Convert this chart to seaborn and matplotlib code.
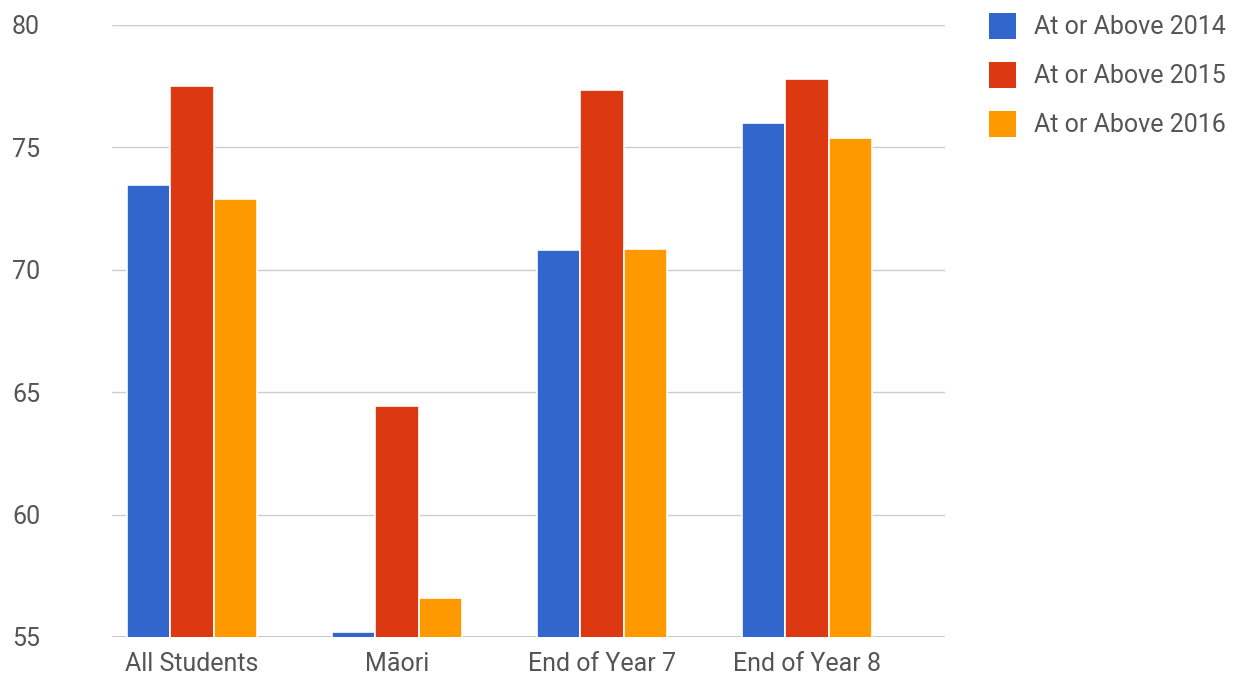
import matplotlib
matplotlib.use("Agg")
import matplotlib.pyplot as plt
import seaborn as sns
import pandas as pd
from matplotlib.patches import Patch

categories = ["All Students", "Māori", "End of Year 7", "End of Year 8"]
series_names = ["At or Above 2014", "At or Above 2015", "At or Above 2016"]
values_2014 = [73.45, 55.2, 70.8, 76.0]
values_2015 = [77.5, 64.45, 77.35, 77.8]
values_2016 = [72.9, 56.6, 70.85, 75.4]
colors = ["#3366CC", "#DC3912", "#FF9900"]
y_ticks = [55, 60, 65, 70, 75, 80]

rows = []
for name, vals in zip(series_names, [values_2014, values_2015, values_2016]):
    for c, v in zip(categories, vals):
        rows.append({"category": c, "series": name, "value": v})
df = pd.DataFrame(rows)

sns.set_theme(style="white")
plt.rcParams['font.family'] = ['Roboto', 'DejaVu Sans']

W, H = 1248, 675
fig = plt.figure(figsize=(W / 100, H / 100), dpi=100)
ax = fig.add_axes([112 / W, 1 - 637 / H, (945 - 112) / W, (637 - 25) / H])

sns.barplot(data=df, x="category", y="value", hue="series", order=categories,
            hue_order=series_names, palette=colors, width=0.634,
            edgecolor="white", linewidth=1.2, saturation=1, ax=ax, legend=False)

ax.set_ylim(55, 80)
ax.set_yticks(y_ticks)
ax.set_xlim(-0.39, 3.673)
ax.set_xlabel("")
ax.set_ylabel("")
for s in ax.spines.values():
    s.set_visible(False)
ax.yaxis.grid(True, color="#cccccc", linewidth=1)
ax.set_axisbelow(True)
ax.axhline(55, color="#bbbbbb", linewidth=1.2, zorder=0.5)
ax.tick_params(axis="both", length=0, labelsize=18, labelcolor="#555555")
ax.tick_params(axis="y", pad=72)
for lab in ax.get_yticklabels():
    lab.set_horizontalalignment("left")
ax.tick_params(axis="x", pad=11)

handles = [Patch(facecolor=c, edgecolor="none") for c in colors]
fig.legend(handles, series_names, loc="upper left", bbox_to_anchor=(976 / W, 1.0),
           frameon=False, fontsize=18, labelcolor="#555555", borderpad=0,
           handlelength=1.1, handleheight=1.25, handletextpad=0.72, labelspacing=0.9)

fig.savefig("out.png", dpi=100)
